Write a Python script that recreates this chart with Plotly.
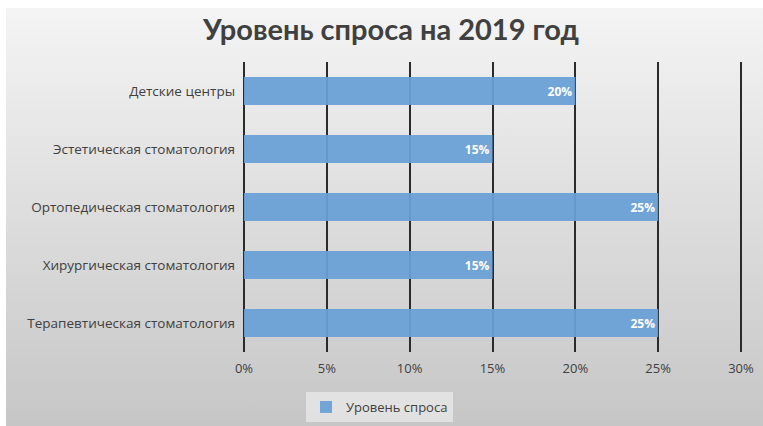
import plotly.graph_objects as go

categories = ["Детские центры", "Эстетическая стоматология", "Ортопедическая стоматология",
              "Хирургическая стоматология", "Терапевтическая стоматология"]
values = [0.20, 0.15, 0.25, 0.15, 0.25]
tick_vals = [0, 0.05, 0.10, 0.15, 0.20, 0.25, 0.30]
tick_text = ["0%", "5%", "10%", "15%", "20%", "25%", "30%"]
series_name = "Уровень спроса"
title_text = "Уровень спроса на 2019 год"

W, H = 763, 426
FONT = "Open Sans"
X_MIN, X_MAX = -0.003, 0.303  # slightly past 0% and 30% so edge gridlines are drawn
PX_PER_UNIT = 497 / 0.3

fig = go.Figure()

# background gradient panel (decoration)
fig.add_trace(go.Scatter(
    x=[6, W, W, 6, 6], y=[0, 0, H - 8, H - 8, 0],
    fill="toself", mode="lines", line=dict(width=0),
    fillgradient=dict(type="vertical", colorscale=[[0, "#c6c6c6"], [1, "#f4f4f4"]]),
    hoverinfo="skip", showlegend=False, xaxis="x", yaxis="y"))

fig.add_trace(go.Bar(
    y=categories, x=values, orientation="h", name=series_name,
    marker=dict(color="rgba(106,160,214,0.94)", line=dict(width=0)),
    texttemplate="<b>%{x:.0%}</b>", textposition="inside", insidetextanchor="end",
    textfont=dict(color="white", size=12, family=FONT),
    xaxis="x2", yaxis="y2", showlegend=True))

fig.update_layout(
    width=W, height=H,
    margin=dict(l=0, r=0, t=0, b=0, autoexpand=False),
    paper_bgcolor="white", plot_bgcolor="rgba(0,0,0,0)",
    xaxis=dict(domain=[0, 1], range=[0, W], visible=False, fixedrange=True, automargin=False),
    yaxis=dict(domain=[0, 1], range=[0, H], visible=False, fixedrange=True, automargin=False),
    xaxis2=dict(domain=[(244 + X_MIN * PX_PER_UNIT) / W, (244 + X_MAX * PX_PER_UNIT) / W],
                range=[X_MIN, X_MAX], anchor="y2",
                tickvals=tick_vals, ticktext=tick_text, automargin=False,
                showgrid=True, gridcolor="#2b2b2b", gridwidth=2,
                zeroline=False, showline=False, ticks="",
                ticklabelstandoff=7,
                tickfont=dict(family=FONT, size=13, color="#404040")),
    yaxis2=dict(domain=[(H - 352) / H, (H - 62) / H], anchor="x2", automargin=False,
                autorange="reversed", showgrid=False, zeroline=False, showline=False,
                ticks="", ticklabelstandoff=3,
                tickfont=dict(family=FONT, size=13.5, color="#404040")),
    bargap=0.52,
    title=dict(text="<b>" + title_text + "</b>", x=391 / W, xanchor="center",
               y=1 - 30 / H, yanchor="middle",
               font=dict(family="Lato", size=29, color="#404040")),
    legend=dict(orientation="h", x=306 / W, xanchor="left", y=1 - 392 / H, yanchor="top",
                bgcolor="rgba(236,236,236,0.7)", borderwidth=0,
                font=dict(family=FONT, size=13, color="#404040"),
                itemwidth=30),
)

fig.write_html("out.html")
